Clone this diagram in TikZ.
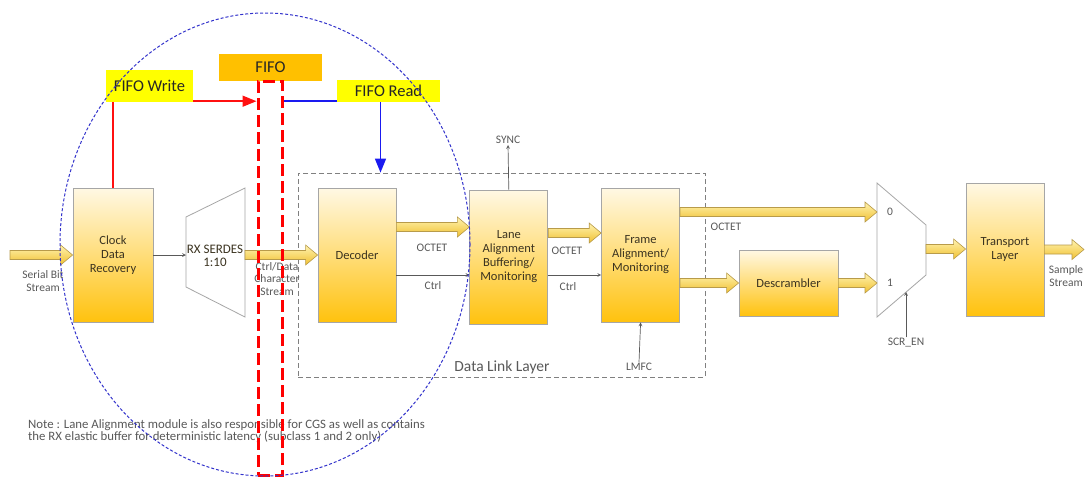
\documentclass[tikz,border=0pt]{standalone}
\usepackage{fontspec}
\setmainfont{Carlito}
\usetikzlibrary{shapes,arrows,arrows.meta,positioning,calc}

\definecolor{blocktop}{HTML}{FFF8E4}
\definecolor{blockbot}{HTML}{FFC20E}
\definecolor{blockedge}{HTML}{A6A6A6}
\definecolor{fattop}{HTML}{FFF3B0}
\definecolor{fatbot}{HTML}{F0C030}
\definecolor{fatedge}{HTML}{B89B4A}
\definecolor{labelgray}{HTML}{595959}
\definecolor{blocktext}{HTML}{3B3320}
\definecolor{fifoorange}{HTML}{FFC000}
\definecolor{hiyellow}{HTML}{FFFF00}
\definecolor{ovalblue}{HTML}{3333CC}
\definecolor{wrred}{HTML}{FF1010}
\definecolor{rdblue}{HTML}{1A1AF0}

\begin{document}
\begin{tikzpicture}[
    x=1pt, y=-1pt,
    block/.style={rectangle, draw=blockedge, line width=0.8pt, top color=blocktop, bottom color=blockbot, minimum width=78pt, minimum height=134pt, text=blocktext, align=center, font=\fontsize{12.5}{14}\selectfont, inner sep=0pt},
    trap/.style={draw=blockedge, line width=0.8pt, fill=white},
    lbl/.style={text=labelgray, font=\fontsize{11.5}{12.5}\selectfont, align=center, inner sep=1pt},
    flag/.style={rectangle, fill=hiyellow, text=black!85, font=\fontsize{16.5}{18}\selectfont, inner sep=0pt},
    sig/.style={->, >=stealth, draw=labelgray, line width=0.7pt},
    wr/.style={color=wrred, line width=1.5pt},
    rd/.style={color=rdblue, line width=1.5pt},
    fat/.style={draw=fatedge, line width=0.6pt, top color=fattop, bottom color=fatbot, line join=miter,
        to path={let \p1=(\tikztostart), \p2=(\tikztotarget) in
            (\x1,\y1+4.5pt) -- (\x2-12pt,\y1+4.5pt) -- (\x2-12pt,\y1+10pt) -- (\x2,\y1)
            -- (\x2-12pt,\y1-10pt) -- (\x2-12pt,\y1-4.5pt) -- (\x1,\y1-4.5pt) -- cycle}}
]
\useasboundingbox (0,0) rectangle (1089,477);
\fill [white] (0,0) rectangle (1089,477);

% Data link layer frame
\node (dll) [draw=gray, line width=0.8pt, dash pattern=on 5pt off 3pt, minimum width=407pt, minimum height=204pt] at (501.5,275) {};
\node (dllname) [text=labelgray, font=\fontsize{15.5}{17}\selectfont] at (502,367) {Data Link Layer};

% Blocks
\node (cdr) [block, minimum width=80pt] at (113,255) {Clock\\Data\\Recovery};
\node (decoder) [block] at (357,255) {Decoder};
\node (lane) [block, right=73pt of decoder, yshift=-2pt] {Lane\\Alignment\\Buffering/\\Monitoring};
\node (frame) [block, right=53pt of lane, yshift=2pt] {Frame\\Alignment/\\Monitoring};
\node (descr) [block, minimum width=99pt, minimum height=66pt] at (788.5,283) {Descrambler};
\node (transport) [block, minimum height=133pt] at (1005,249.5) {Transport\\Layer};

% SERDES and mux
\draw [trap] (186,217) -- (245,188) -- (245,317) -- (186,287) -- cycle;
\node (serdes) [text=blocktext, align=center, font=\fontsize{13}{13.5}\selectfont] at (215,256) {RX SERDES\\1:10};
\coordinate (serdesin) at (186,255);
\coordinate (serdesout) at (245,255);

\draw [trap] (877,183) -- (926,225) -- (926,275) -- (877,317) -- cycle;
\coordinate (mux0) at (877,212);
\coordinate (mux1) at (877,283);
\coordinate (muxout) at (926,249);
\coordinate (muxsel) at (906,292);
\node (sel0) [lbl] at (890,212) {0};
\node (sel1) [lbl] at (890,283) {1};

% Labels
\node (serial) [lbl] at (43,281) {Serial Bit\\Stream};
\node (chars) [lbl] at (277,279) {Ctrl/Data\\Character\\Stream};
\node (octA) [lbl] at (432,248) {OCTET};
\node (ctrlA) [lbl] at (433,286) {Ctrl};
\node (octB) [lbl] at (567,251) {OCTET};
\node (ctrlB) [lbl] at (568,287) {Ctrl};
\node (octC) [lbl] at (726,227) {OCTET};
\node (sync) [lbl] at (508,140) {SYNC};
\node (lmfc) [lbl] at (639,367) {LMFC};
\node (scren) [lbl] at (906,343) {SCR\_EN};
\node (sample) [lbl] at (1066,276) {Sample\\Stream};
\coordinate (serialin) at (10,255);
\coordinate (sampleout) at (1084,249);

% Fat data arrows
\draw [fat] (serialin) to (cdr.west);
\draw [fat] (serdesout) to (decoder.west);
\draw [fat] ([yshift=28pt]decoder.east) to (lane.west);
\draw [fat] ([yshift=24pt]lane.east) to (frame.west);
\draw [fat] ([yshift=43pt]frame.east) to (mux0);
\draw [fat] ([yshift=-28pt]frame.east) to (descr.west);
\draw [fat] (descr.east) to (mux1);
\draw [fat] (muxout) to (transport.west);
\draw [fat] (transport.east) to (sampleout);

% Control arrows
\coordinate (ctrlAs) at ([yshift=-20pt]decoder.east);
\coordinate (ctrlBs) at ([yshift=-18pt]lane.east);
\draw [sig] (cdr.east) -- (serdesin);
\draw [sig] (ctrlAs) -- (ctrlAs -| lane.west);
\draw [sig] (ctrlBs) -- (ctrlBs -| frame.west);
\draw [sig] (lane.north) -- (sync.south);
\draw [sig] (lmfc.north) -- (frame.south);
\draw [sig] (scren.north) -- (muxsel);

% Note
\node (note) [anchor=north west, align=left, text=labelgray, font=\fontsize{12.8}{11.5}\selectfont, inner sep=0pt] at (28,419) {Note : Lane Alignment module is also responsible for CGS as well as contains\\the RX elastic buffer for deterministic latency (subclass 1 and 2 only)};

% FIFO overlay
\node (fifo) [rectangle, fill=fifoorange, minimum width=103pt, minimum height=27pt, inner sep=0pt, text=black!85, font=\fontsize{16.5}{18}\selectfont] at (270.5,67.5) {FIFO};
\node (fifowr) [flag, minimum width=87pt, minimum height=32pt] at (149.5,86) {FIFO Write};
\node (fiford) [flag, minimum width=103pt, minimum height=22pt] at (388.5,91) {FIFO Read};
\node (fifobuf) [draw=red, line width=3pt, dash pattern=on 12pt off 5pt, minimum width=24pt, minimum height=394pt, inner sep=0pt] at (270,278) {};

\coordinate (wrout) at ([yshift=1pt]fifowr.south east);
\coordinate (rdin) at ([yshift=1pt]fiford.south west);
\coordinate (rdtap) at ([xshift=-8pt]fiford.south);
\draw [wr] (cdr.north |- fifowr.south) -- (cdr.north);
\draw [wr, -{Triangle[length=14pt,width=11pt]}] (wrout) -- (wrout -| fifobuf.west);
\draw [rd] (rdin -| fifobuf.east) -- (rdin);
\draw [rd, -{Triangle[length=14pt,width=11pt]}] (rdtap) -- (rdtap |- dll.north);

% Highlight oval
\draw [ovalblue, line width=1pt, dash pattern=on 3pt off 2pt] (265,244.5) ellipse [x radius=205pt, y radius=231.5pt];

\end{tikzpicture}
\end{document}
